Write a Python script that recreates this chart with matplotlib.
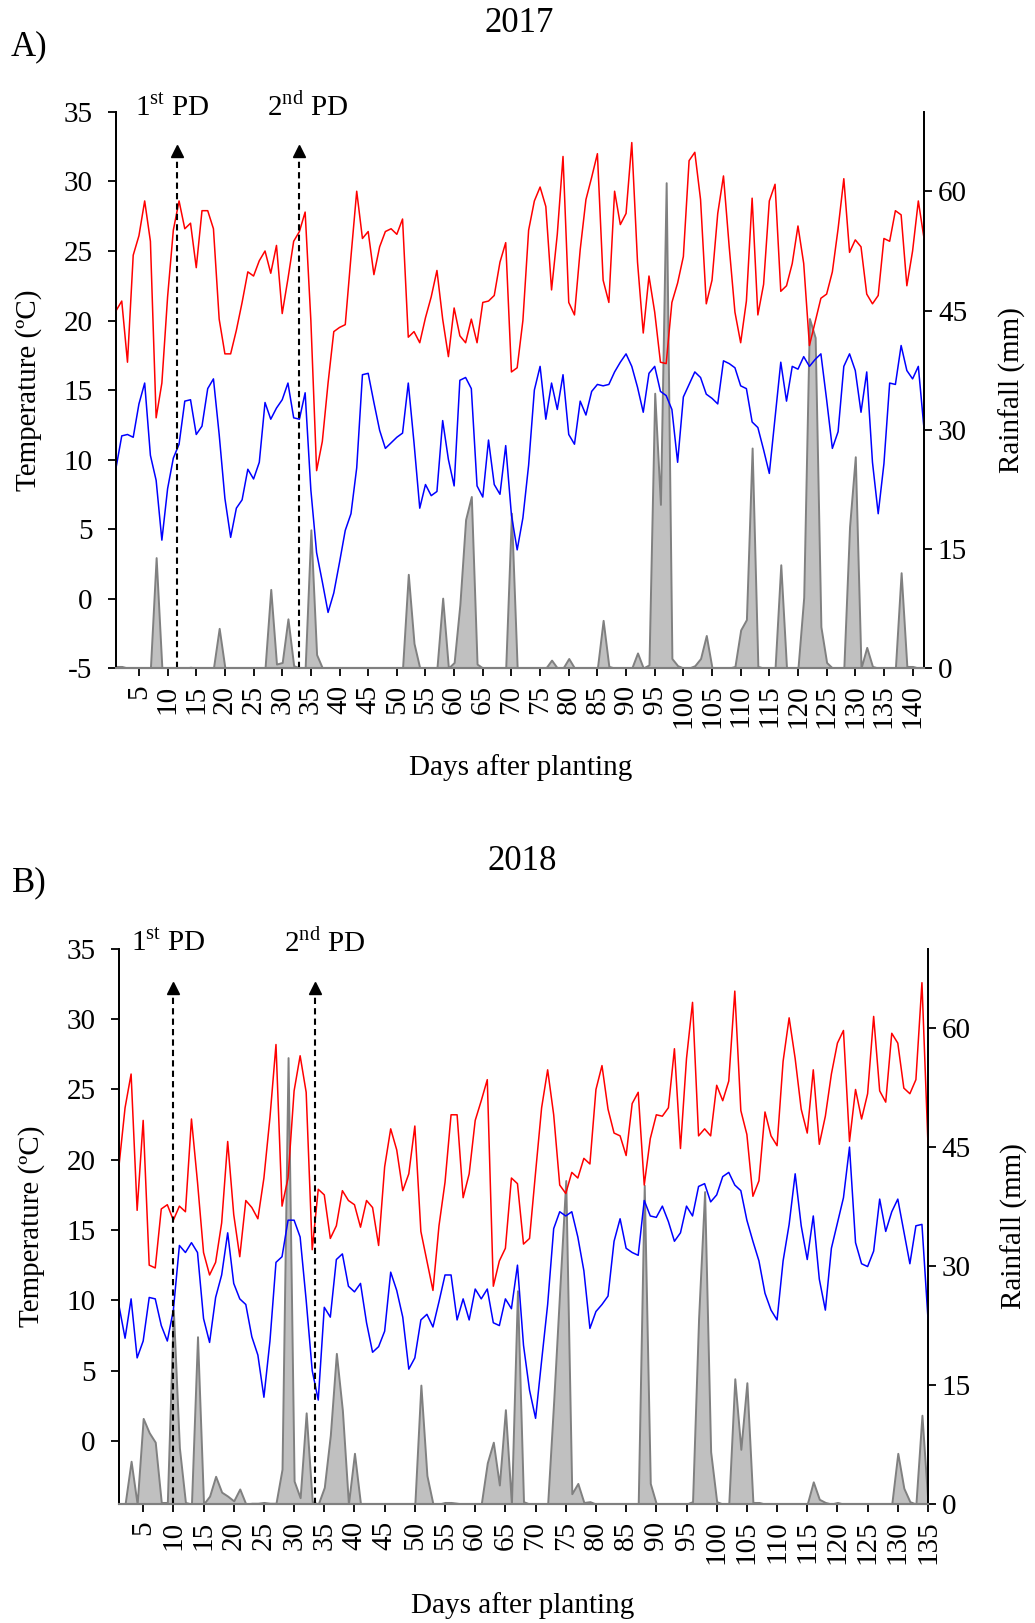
import matplotlib.pyplot as plt

plt.rcParams['font.family'] = ['Liberation Serif', 'DejaVu Serif']
plt.rcParams['mathtext.fontset'] = 'custom'
plt.rcParams['mathtext.rm'] = 'Liberation Serif'
plt.rcParams['axes.unicode_minus'] = False

# ---- 2017 data (days after planting 1..142) ----
days_2017 = list(range(1, 143))
tmax_2017 = [20.7, 21.4, 17.0, 24.7, 26.1, 28.6, 25.7, 13.0, 15.5, 21.7,
             26.5, 28.6, 26.6, 27.0, 23.8, 27.9, 27.9, 26.6, 20.1, 17.6,
             17.6, 19.3, 21.3, 23.5, 23.2, 24.3, 25.0, 23.4, 25.4, 20.5,
             23.0, 25.7, 26.4, 27.8, 20.0, 9.2, 11.3, 15.5, 19.2, 19.5,
             19.7, 24.6, 29.3, 25.9, 26.4, 23.3, 25.3, 26.4, 26.6, 26.2,
             27.3, 18.8, 19.2, 18.4, 20.2, 21.7, 23.6, 20.1, 17.4, 20.9,
             18.9, 18.4, 20.1, 18.4, 21.3, 21.4, 21.8, 24.2, 25.6, 16.3,
             16.6, 20.0, 26.5, 28.6, 29.6, 28.2, 22.2, 26.2, 31.8, 21.3,
             20.4, 25.1, 28.7, 30.3, 32.0, 22.9, 21.3, 29.3, 26.9, 27.7,
             32.8, 24.2, 19.1, 23.2, 20.6, 17.0, 16.9, 21.3, 22.7, 24.6,
             31.5, 32.1, 28.7, 21.2, 22.9, 27.7, 30.4, 25.3, 20.6, 18.4,
             21.4, 28.8, 20.4, 22.6, 28.6, 29.8, 22.1, 22.5, 24.1, 26.8,
             24.1, 18.2, 19.9, 21.6, 21.9, 23.5, 26.6, 30.2, 24.9, 25.8,
             25.3, 21.9, 21.2, 21.8, 25.9, 25.7, 27.9, 27.6, 22.5, 25.0,
             28.6, 25.9]
tmin_2017 = [9.4, 11.7, 11.8, 11.6, 14.0, 15.5, 10.3, 8.5, 4.2, 7.9,
             10.1, 11.1, 14.2, 14.3, 11.8, 12.4, 15.1, 15.8, 11.8, 7.2,
             4.4, 6.5, 7.1, 9.3, 8.6, 9.8, 14.1, 12.9, 13.7, 14.3,
             15.5, 13.0, 12.9, 14.8, 7.8, 3.3, 1.2, -1.0, 0.4, 2.6,
             4.9, 6.1, 9.4, 16.1, 16.2, 14.1, 12.1, 10.8, 11.2, 11.6,
             11.9, 15.5, 11.2, 6.5, 8.2, 7.4, 7.7, 12.8, 10.0, 8.1,
             15.7, 15.9, 15.1, 8.1, 7.3, 11.4, 8.2, 7.5, 11.0, 6.0,
             3.5, 5.8, 9.6, 15.0, 16.7, 12.9, 15.5, 13.6, 16.1, 11.8,
             11.1, 14.2, 13.2, 14.9, 15.4, 15.3, 15.4, 16.3, 17.0, 17.6,
             16.7, 15.2, 13.4, 16.2, 16.7, 14.9, 14.6, 13.6, 9.8, 14.5,
             15.4, 16.3, 15.9, 14.7, 14.4, 14.0, 17.1, 16.9, 16.6, 15.3,
             15.1, 12.7, 12.3, 10.7, 9.0, 13.0, 17.0, 14.2, 16.7, 16.5,
             17.4, 16.7, 17.2, 17.6, 14.3, 10.8, 12.0, 16.7, 17.6, 16.4,
             13.4, 16.3, 9.8, 6.1, 9.7, 15.5, 15.4, 18.2, 16.4, 15.8,
             16.7, 12.2]
rain_2017 = [0.2, 0.2, 0, 0, 0, 0, 0, 13.9, 0, 0,
             0, 0, 0, 0.1, 0, 0, 0, 0, 5.0, 0,
             0, 0, 0, 0, 0, 0, 0, 9.9, 0.5, 0.7,
             6.2, 0.3, 0, 0, 17.4, 1.7, 0, 0, 0, 0,
             0, 0, 0, 0, 0, 0, 0, 0, 0, 0,
             0, 11.8, 3.1, 0, 0, 0, 0, 8.8, 0, 0.7,
             8.0, 18.7, 21.6, 0.5, 0, 0, 0, 0, 0, 19.5,
             0, 0, 0, 0, 0, 0, 1.0, 0, 0, 1.2,
             0, 0, 0, 0, 0, 6.0, 0.2, 0, 0, 0,
             0, 1.9, 0, 0.4, 34.6, 20.6, 61.1, 1.2, 0.3, 0,
             0, 0.3, 1.2, 4.1, 0, 0, 0, 0, 0.2, 4.8,
             6.1, 27.7, 0.2, 0, 0, 0, 13.0, 0, 0, 0,
             8.9, 44.0, 41.6, 5.2, 0.7, 0, 0, 0, 17.8, 26.6,
             0, 2.6, 0.2, 0, 0, 0, 0, 12.0, 0.2, 0.2,
             0, 0]
pd_2017 = [11.6, 33.0]
pd_label_x_2017 = [10.8, 34.4]

# ---- 2018 data (days after planting 1..135) ----
days_2018 = list(range(1, 136))
tmax_2018 = [19.6, 23.7, 26.1, 16.4, 22.8, 12.5, 12.3, 16.5, 16.8, 15.7,
             16.7, 16.3, 22.9, 18.4, 13.4, 11.8, 12.7, 15.5, 21.3, 16.1,
             13.1, 17.1, 16.6, 15.8, 18.7, 23.0, 28.2, 16.7, 18.7, 24.9,
             27.4, 24.8, 13.6, 17.9, 17.5, 14.4, 15.3, 17.8, 17.1, 16.8,
             15.2, 17.1, 16.6, 13.9, 19.5, 22.2, 20.7, 17.8, 19.0, 22.4,
             14.9, 12.8, 10.7, 15.3, 18.4, 23.2, 23.2, 17.3, 19.0, 22.8,
             24.2, 25.7, 11.0, 12.8, 13.7, 18.7, 18.3, 14.0, 14.4, 19.1,
             23.7, 26.4, 23.2, 18.2, 17.6, 19.1, 18.7, 20.1, 19.7, 25.0,
             26.7, 23.6, 21.9, 21.7, 20.3, 24.0, 24.8, 18.2, 21.5, 23.2,
             23.1, 23.7, 27.9, 20.8, 27.2, 31.2, 21.7, 22.2, 21.7, 25.3,
             24.2, 25.6, 32.0, 23.5, 21.8, 17.4, 18.5, 23.4, 21.7, 21.0,
             27.0, 30.1, 27.2, 23.6, 21.9, 26.4, 21.1, 23.1, 26.1, 28.3,
             29.2, 21.3, 25.0, 22.9, 24.7, 30.2, 24.9, 24.1, 29.0, 28.3,
             25.1, 24.7, 25.7, 32.6, 21.1]
tmin_2018 = [9.6, 7.3, 10.1, 5.9, 7.1, 10.2, 10.1, 8.2, 7.1, 9.3,
             13.9, 13.4, 14.1, 13.4, 8.7, 7.0, 10.2, 11.8, 14.8, 11.2,
             10.1, 9.7, 7.4, 6.1, 3.1, 7.1, 12.7, 13.1, 15.7, 15.7,
             14.5, 10.0, 5.0, 2.9, 9.5, 8.8, 12.9, 13.3, 11.0, 10.6,
             11.2, 8.4, 6.3, 6.7, 7.8, 12.0, 10.7, 8.8, 5.1, 5.9,
             8.6, 9.0, 8.1, 9.9, 11.8, 11.8, 8.6, 10.1, 8.6, 10.8,
             10.1, 10.8, 8.4, 8.2, 10.1, 9.4, 12.5, 6.8, 3.6, 1.6,
             5.7, 9.7, 15.1, 16.3, 16.0, 16.3, 14.5, 12.1, 8.0, 9.2,
             9.7, 10.3, 14.2, 15.8, 13.7, 13.4, 13.2, 17.1, 16.0, 15.9,
             16.7, 15.6, 14.2, 14.8, 16.7, 16.0, 18.1, 18.3, 17.0, 17.5,
             18.8, 19.1, 18.2, 17.8, 15.7, 14.2, 12.8, 10.5, 9.3, 8.6,
             12.8, 15.4, 19.0, 15.3, 12.9, 16.0, 11.5, 9.3, 13.7, 15.5,
             17.3, 20.9, 14.1, 12.6, 12.4, 13.5, 17.2, 14.9, 16.3, 17.2,
             14.9, 12.6, 15.3, 15.4, 8.7]
rain_2018 = [0, 0, 5.4, 0, 10.8, 9.0, 7.8, 0.2, 0.2, 24.5,
             7.1, 0.2, 0, 21.1, 0, 1.0, 3.5, 1.5, 1.0, 0.4,
             1.9, 0, 0.1, 0.1, 0.2, 0.1, 0.1, 4.4, 56.3, 2.9,
             0.8, 11.5, 0.3, 0, 2.1, 8.7, 19.0, 11.8, 0, 6.4,
             0, 0, 0, 0, 0, 0, 0, 0, 0, 0,
             15.0, 3.6, 0, 0, 0.2, 0.2, 0.1, 0, 0, 0,
             0, 5.2, 7.8, 2.4, 11.9, 0, 26.9, 0.3, 0, 0,
             0, 0, 13.0, 27.0, 40.8, 1.3, 2.6, 0.2, 0.3, 0,
             0, 0, 0, 0, 0, 0, 0, 40.2, 2.6, 0,
             0, 0, 0, 0, 0, 0.3, 23.4, 39.4, 6.6, 0.3,
             0, 0, 15.8, 6.9, 15.3, 0.2, 0.2, 0, 0, 0,
             0, 0, 0, 0, 0, 2.8, 0.6, 0.2, 0, 0.2,
             0, 0, 0, 0, 0, 0, 0, 0, 0, 6.4,
             2.0, 0.3, 0, 11.2, 0]
pd_2018 = [10.0, 33.5]
pd_label_x_2018 = [9.2, 35.0]

pd_labels = ['1$^{\\mathrm{st}}$ PD', '2$^{\\mathrm{nd}}$ PD']
temp_ticks_2017 = [-5, 0, 5, 10, 15, 20, 25, 30, 35]
temp_ticks_2018 = [0, 5, 10, 15, 20, 25, 30, 35]
rain_ticks = [0, 15, 30, 45, 60]

fs = 21
fig = plt.figure(figsize=(10.35, 16.23), dpi=100)


def panel(rect, days, tmax, tmin, rain, pds, pd_x, ymin, yticks, label_y):
    ax = fig.add_axes(rect)
    ax2 = ax.twinx()
    ax2.fill_between(days, rain, 0, facecolor='#c0c0c0', edgecolor='#808080',
                     linewidth=1.4)
    ax2.set_ylim(0, 70)
    ax2.set_yticks(rain_ticks)
    ax.set_zorder(ax2.get_zorder() + 1)
    ax.patch.set_visible(False)

    ax.plot(days, tmax, color='#ff0000', lw=1.1)
    ax.plot(days, tmin, color='#0000ff', lw=1.1)

    # planting dates: dashed arrows with labels above
    for p, lx, txt in zip(pds, pd_x, pd_labels):
        ax.plot([p, p], [ymin, 32.0], ls=(0, (3, 2)), color='k', lw=1.5)
        ax.plot(p, 32.2, marker='^', color='k', ms=8)
        ax.text(lx, label_y, txt, ha='center', va='center', fontsize=fs,
                clip_on=False)

    ax.set_xlim(days[0], days[-1])
    ax.set_xticks(list(range(5, days[-1] + 1, 5)))
    ax.set_ylim(ymin, 35)
    ax.set_yticks(yticks)

    for a in (ax, ax2):
        a.spines['top'].set_visible(False)
        for s in ('left', 'right'):
            a.spines[s].set_linewidth(1.3)
        a.spines['bottom'].set_color('#808080')
        a.spines['bottom'].set_linewidth(1.5)
    ax.tick_params(axis='x', labelrotation=90, labelsize=fs, length=6,
                   width=1.3, pad=6)
    ax.tick_params(axis='y', labelsize=fs, length=6, width=1.3, pad=11)
    ax2.tick_params(axis='y', labelsize=fs, length=6, width=1.3, pad=4)
    return ax


panel([0.1121, 0.5884, 0.7807, 0.3426], days_2017, tmax_2017, tmin_2017,
      rain_2017, pd_2017, pd_label_x_2017, -5, temp_ticks_2017, 35.3)
panel([0.1150, 0.0733, 0.7816, 0.3420], days_2018, tmax_2018, tmin_2018,
      rain_2018, pd_2018, pd_label_x_2018, -4.5, temp_ticks_2018, 35.4)

# titles, panel letters and axis titles
fig.text(0.502, 0.9858, '2017', ha='center', va='center', fontsize=25)
fig.text(0.028, 0.971, 'A)', ha='center', va='center', fontsize=25)
fig.text(0.505, 0.4695, '2018', ha='center', va='center', fontsize=25)
fig.text(0.028, 0.456, 'B)', ha='center', va='center', fontsize=25)

fig.text(0.503, 1 - 768 / 1623, 'Days after planting', ha='center',
         va='center', fontsize=fs)
fig.text(0.505, 1 - 1606 / 1623, 'Days after planting', ha='center',
         va='center', fontsize=fs)
fig.text(0.028, 1 - 390 / 1623, 'Temperature (ºC)', ha='center',
         va='center', rotation=90, fontsize=fs)
fig.text(0.030, 1 - 1226 / 1623, 'Temperature (ºC)', ha='center',
         va='center', rotation=90, fontsize=fs)
fig.text(0.978, 1 - 390 / 1623, 'Rainfall (mm)', ha='center', va='center',
         rotation=90, fontsize=fs)
fig.text(0.980, 1 - 1226 / 1623, 'Rainfall (mm)', ha='center', va='center',
         rotation=90, fontsize=fs)

fig.savefig('out.png', dpi=100)
